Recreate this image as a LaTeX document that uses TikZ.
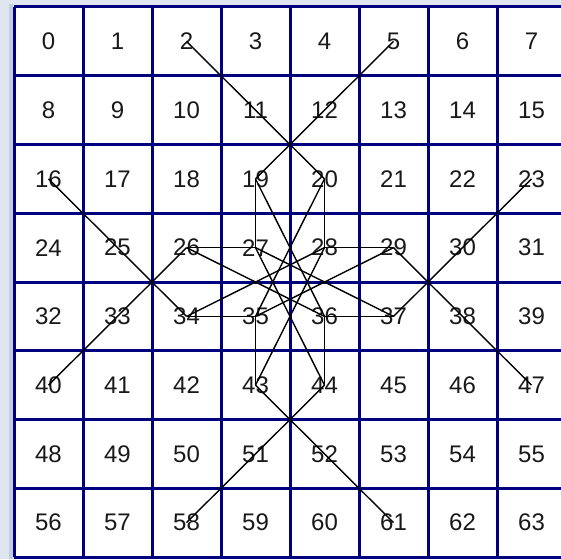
\documentclass[tikz,border=0pt]{standalone}
\usepackage{fontspec}
\setmainfont{Liberation Sans}
\usepackage{xcolor}

\definecolor{gridnavy}{HTML}{00007F}
\definecolor{framegray}{HTML}{DFE6EF}
\definecolor{frameedge}{HTML}{C3CEDC}

\begin{document}
\begin{tikzpicture}[x=1pt, y=-1pt,
    cell/.style = {inner sep=0pt, font=\fontsize{24}{29}\selectfont, text=black!90},
    gridline/.style = {draw=gridnavy, line width=3pt},
    move/.style = {draw=black, line width=1.4pt}
]
\useasboundingbox (0,0) rectangle (561,559);

% Window frame
\fill[framegray] (0,0) rectangle (561,559);
\fill[frameedge] (9,4) rectangle (13,559);
\fill[white] (14,7) rectangle (561,557);

% Board grid
\foreach \i in {0,...,7} \draw[gridline] (14+69*\i,7) -- (14+69*\i,557);
\foreach \j in {0,...,8} \draw[gridline] (14,7+68.75*\j) -- (561,7+68.75*\j);

% Cells
\foreach \n in {0,...,63} {
  \pgfmathtruncatemacro{\bcol}{mod(\n,8)}
  \pgfmathtruncatemacro{\brow}{div(\n,8)}
  \node (c\n) [cell] at (48.5+69*\bcol, 41.4+68.75*\brow) {\n};
}

% Outer crosses
\draw[move] (c2.center) -- (c20.center);
\draw[move] (c5.center) -- (c19.center);
\draw[move] (c16.center) -- (c34.center);
\draw[move] (c40.center) -- (c26.center);
\draw[move] (c23.center) -- (c37.center);
\draw[move] (c29.center) -- (c47.center);
\draw[move] (c43.center) -- (c61.center);
\draw[move] (c58.center) -- (c44.center);

% Corner steps
\draw[move] (c26.center) -- (c27.center) -- (c19.center);
\draw[move] (c20.center) -- (c28.center) -- (c29.center);
\draw[move] (c34.center) -- (c35.center) -- (c43.center);
\draw[move] (c37.center) -- (c36.center) -- (c44.center);

% Centre star
\draw[move] (c19.center) -- (c36.center);
\draw[move] (c20.center) -- (c35.center);
\draw[move] (c27.center) -- (c44.center);
\draw[move] (c28.center) -- (c43.center);
\draw[move] (c26.center) -- (c36.center);
\draw[move] (c34.center) -- (c28.center);
\draw[move] (c27.center) -- (c37.center);
\draw[move] (c35.center) -- (c29.center);

\end{tikzpicture}
\end{document}
